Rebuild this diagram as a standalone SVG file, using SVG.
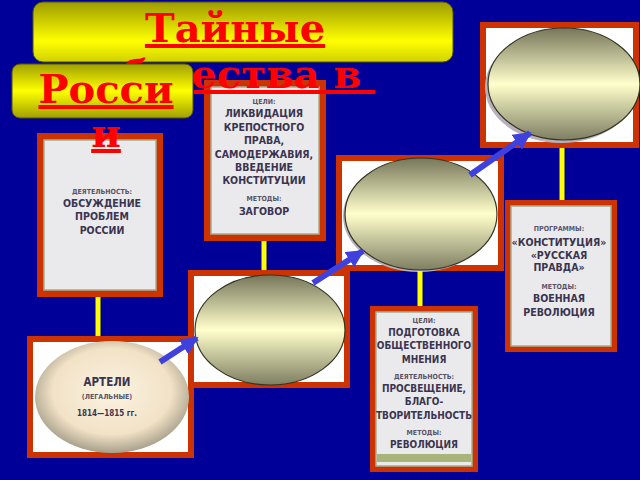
<svg xmlns="http://www.w3.org/2000/svg" width="640" height="480" viewBox="0 0 640 480">
<defs>
<linearGradient id="gTitle" x1="0" y1="0" x2="0" y2="1">
<stop offset="0" stop-color="#9c9c00"/>
<stop offset="0.65" stop-color="#ffff00"/>
<stop offset="1" stop-color="#d0d000"/>
</linearGradient>
<linearGradient id="gRos" x1="0" y1="0" x2="0" y2="1">
<stop offset="0" stop-color="#a0a000"/>
<stop offset="0.5" stop-color="#ffff00"/>
<stop offset="1" stop-color="#a0a000"/>
</linearGradient>
<linearGradient id="gEll" x1="0" y1="0" x2="0" y2="1">
<stop offset="0" stop-color="#76765a"/>
<stop offset="0.5" stop-color="#ffffcc"/>
<stop offset="1" stop-color="#7e7e62"/>
</linearGradient>
<radialGradient id="gArt" cx="0.5" cy="0.45" r="0.55">
<stop offset="0" stop-color="#fbf3e2"/>
<stop offset="0.7" stop-color="#f2e2c6"/>
<stop offset="1" stop-color="#a8a08c"/>
</radialGradient>
<marker id="ah" viewBox="0 0 10 10" refX="9" refY="5" markerWidth="3" markerHeight="3" orient="auto" markerUnits="strokeWidth">
<path d="M0,0 L10,5 L0,10 z" fill="#4040dc"/>
</marker>
<style>
.frame{fill:#cc3300}
.paper{fill:#eaeaec;stroke:#a4ae94;stroke-width:1.5}
.white{fill:#ffffff}
.ell{fill:url(#gEll);stroke:#333322;stroke-width:1.2}
.halo{fill:#b8b0bc}
.t{font-family:"DejaVu Sans Condensed","DejaVu Sans",sans-serif;font-weight:bold;fill:#3a3450;text-anchor:middle;font-size:10.5px}
.g{font-size:10px}
.s{font-size:7px;fill:#5a5468}
.ttl{font-family:"DejaVu Serif","Liberation Serif",serif;font-weight:bold;font-size:40px;fill:#ff0000;text-anchor:middle;text-decoration:underline}
.yl{stroke:#ffff00;stroke-width:5}
.bl{stroke:#4040dc;stroke-width:6;fill:none;marker-end:url(#ah)}
</style>
</defs>
<rect width="640" height="480" fill="#000099"/>

<g id="card-deyatelnost">
<rect class="frame" x="37" y="133" width="126" height="164"/>
<rect class="paper" x="44" y="140" width="112" height="150"/>
<text class="t s" x="102" y="194">ДЕЯТЕЛЬНОСТЬ:</text>
<text class="t" x="102" y="207">ОБСУЖДЕНИЕ</text>
<text class="t" x="102" y="220">ПРОБЛЕМ</text>
<text class="t" x="102" y="234">РОССИИ</text>
</g>

<g id="card-celi">
<rect class="frame" x="204" y="80" width="122" height="161"/>
<rect class="paper" x="211" y="87" width="108" height="147"/>
<text class="t s" x="264" y="104">ЦЕЛИ:</text>
<text class="t" x="264" y="117">ЛИКВИДАЦИЯ</text>
<text class="t" x="264" y="131">КРЕПОСТНОГО</text>
<text class="t" x="264" y="144">ПРАВА,</text>
<text class="t" x="264" y="158">САМОДЕРЖАВИЯ,</text>
<text class="t" x="264" y="171">ВВЕДЕНИЕ</text>
<text class="t" x="264" y="184">КОНСТИТУЦИИ</text>
<text class="t s" x="264" y="201">МЕТОДЫ:</text>
<text class="t" x="264" y="215">ЗАГОВОР</text>
</g>

<g id="card-top-right">
<rect class="frame" x="480" y="22" width="159" height="126"/>
<rect class="white" x="486" y="28" width="147" height="114"/>
<ellipse class="halo" cx="561" cy="87" rx="76" ry="56"/>
<ellipse class="ell" cx="564" cy="84" rx="76" ry="56"/>
</g>

<g id="card-middle">
<rect class="frame" x="336" y="155" width="168" height="116"/>
<rect class="white" x="342" y="161" width="156" height="104"/>
<ellipse class="halo" cx="419" cy="216" rx="76" ry="56"/>
<ellipse class="ell" cx="421" cy="214" rx="76" ry="56"/>
</g>

<g id="card-lower-middle">
<rect class="frame" x="188" y="270" width="162" height="118"/>
<rect class="white" x="194" y="276" width="150" height="106"/>
<ellipse class="ell" cx="270" cy="330" rx="75" ry="55"/>
</g>

<g id="card-programmy">
<rect class="frame" x="505" y="200" width="112" height="152"/>
<rect class="paper" x="511" y="206" width="100" height="140"/>
<text class="t s" x="559" y="231">ПРОГРАММЫ:</text>
<text class="t" x="559" y="246">«КОНСТИТУЦИЯ»</text>
<text class="t" x="559" y="259">«РУССКАЯ</text>
<text class="t" x="559" y="271">ПРАВДА»</text>
<text class="t s" x="559" y="289">МЕТОДЫ:</text>
<text class="t" x="559" y="302">ВОЕННАЯ</text>
<text class="t" x="559" y="316">РЕВОЛЮЦИЯ</text>
</g>

<g id="card-podgotovka">
<rect class="frame" x="370" y="306" width="108" height="166"/>
<rect class="paper" x="376" y="312" width="96" height="154"/>
<rect x="377" y="454" width="94" height="8" fill="#a8b47a"/>
<text class="t s" x="424" y="323">ЦЕЛИ:</text>
<text class="t g" x="424" y="336">ПОДГОТОВКА</text>
<text class="t g" x="424" y="349">ОБЩЕСТВЕННОГО</text>
<text class="t g" x="424" y="363">МНЕНИЯ</text>
<text class="t s" x="424" y="379">ДЕЯТЕЛЬНОСТЬ:</text>
<text class="t g" x="424" y="392">ПРОСВЕЩЕНИЕ,</text>
<text class="t g" x="424" y="405">БЛАГО-</text>
<text class="t g" x="424" y="419">ТВОРИТЕЛЬНОСТЬ</text>
<text class="t s" x="424" y="435">МЕТОДЫ:</text>
<text class="t g" x="424" y="448">РЕВОЛЮЦИЯ</text>
</g>

<g id="card-arteli">
<rect class="frame" x="27" y="336" width="167" height="122"/>
<rect class="white" x="33" y="342" width="155" height="110"/>
<ellipse cx="112" cy="397" rx="77" ry="56" fill="url(#gArt)"/>
<text class="t" x="107" y="386" style="font-size:11.5px">АРТЕЛИ</text>
<text class="t s" x="107" y="399">(ЛЕГАЛЬНЫЕ)</text>
<text class="t" x="107" y="416" style="font-size:8px">1814—1815 гг.</text>
</g>

<g id="connectors">
<line class="yl" x1="98" y1="297" x2="98" y2="336"/>
<line class="yl" x1="264" y1="241" x2="264" y2="270"/>
<line class="yl" x1="420" y1="271" x2="420" y2="306"/>
<line class="yl" x1="562" y1="148" x2="562" y2="200"/>
<line class="bl" x1="160" y1="362" x2="197" y2="338"/>
<line class="bl" x1="313" y1="283" x2="363" y2="251"/>
<line class="bl" x1="470" y1="175" x2="530" y2="133"/>
</g>

<g id="title">
<rect x="33" y="2" width="420" height="60" rx="10" fill="url(#gTitle)" stroke="#555500" stroke-width="1"/>
<text class="ttl" x="235" y="42">Тайные</text>
<text class="ttl" x="235" y="88" xml:space="preserve">общества в </text>
</g>

<g id="russia-box">
<rect x="12" y="64" width="181" height="54" rx="8" fill="url(#gRos)" stroke="#555500" stroke-width="1"/>
<text class="ttl" x="106" y="103">Росси</text>
<text class="ttl" x="106" y="147">и</text>
</g>
</svg>
